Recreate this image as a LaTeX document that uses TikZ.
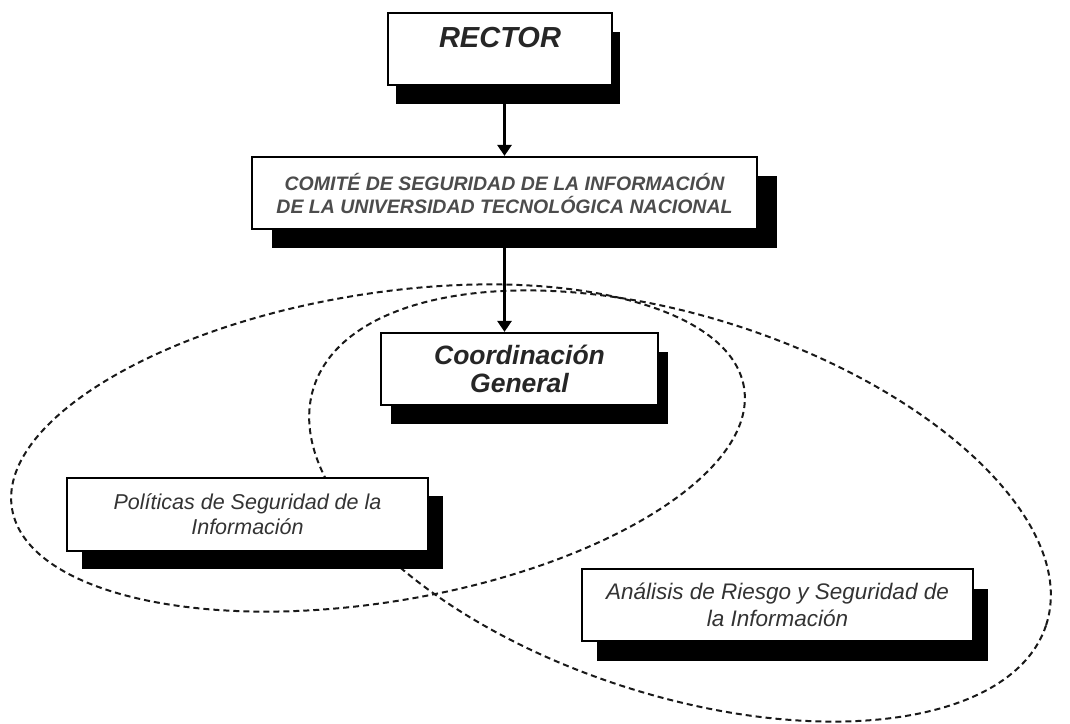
\documentclass[tikz,border=0pt]{standalone}
\usepackage{fontspec}
\setmainfont{Liberation Sans}
\usetikzlibrary{arrows.meta,shadows}
\tikzset{
  orgbox/.style={draw=black, line width=2.2pt, fill=white, inner sep=0pt, align=center},
  shd/.style 2 args={general shadow={fill=black, shadow xshift=#1pt, shadow yshift=-#2pt}},
  zone/.style={draw=black!90, line width=2pt, dash pattern=on 6pt off 4pt},
  link/.style={line width=3.4pt, -{Triangle[length=11pt,width=14pt]}},
}
\begin{document}
\begin{tikzpicture}[x=1pt,y=-1pt]
\useasboundingbox (0,0) rectangle (1070,723);
% dashed zones
\draw[zone, rotate around={9.4:(378,448)}] (378,448) ellipse [x radius=371pt, y radius=154pt];
\draw[zone, rotate around={-18:(680,506)}] (680,506) ellipse [x radius=385pt, y radius=189pt];
% boxes
\node[orgbox, shd={8}{19}, minimum width=224pt, minimum height=72pt] (rector) at (500,49) {};
\node[text=black!85, font=\fontsize{29}{30}\selectfont\bfseries\itshape] (rectortxt) at (500,38) {RECTOR};
\node[orgbox, shd={20}{19}, minimum width=505pt, minimum height=72pt, text=black!70,
  font=\fontsize{19.5}{23}\selectfont\bfseries\itshape] (comite) at (504.5,193)
  {COMITÉ DE SEGURIDAD DE LA INFORMACIÓN\\DE LA UNIVERSIDAD TECNOLÓGICA NACIONAL};
\node[orgbox, shd={10}{19}, minimum width=277pt, minimum height=72pt, text=black!85,
  font=\fontsize{26.5}{28}\selectfont\bfseries\itshape] (coord) at (519.5,369)
  {Coordinación\\General};
\node[orgbox, shd={15}{18}, minimum width=361pt, minimum height=73pt, text=black!80,
  font=\fontsize{21.5}{25}\selectfont\itshape] (politicas) at (247.5,514.5)
  {Políticas de Seguridad de la\\Información};
\node[orgbox, shd={15}{20}, minimum width=391pt, minimum height=72pt, text=black!80,
  font=\fontsize{22.5}{27}\selectfont\itshape] (analisis) at (777.5,605)
  {Análisis de Riesgo y Seguridad de\\la Información};
% connectors
\draw[link] (comite.north |- rector.south) -- (comite.north);
\draw[link] (comite.south) -- (comite.south |- coord.north);
\end{tikzpicture}
\end{document}
